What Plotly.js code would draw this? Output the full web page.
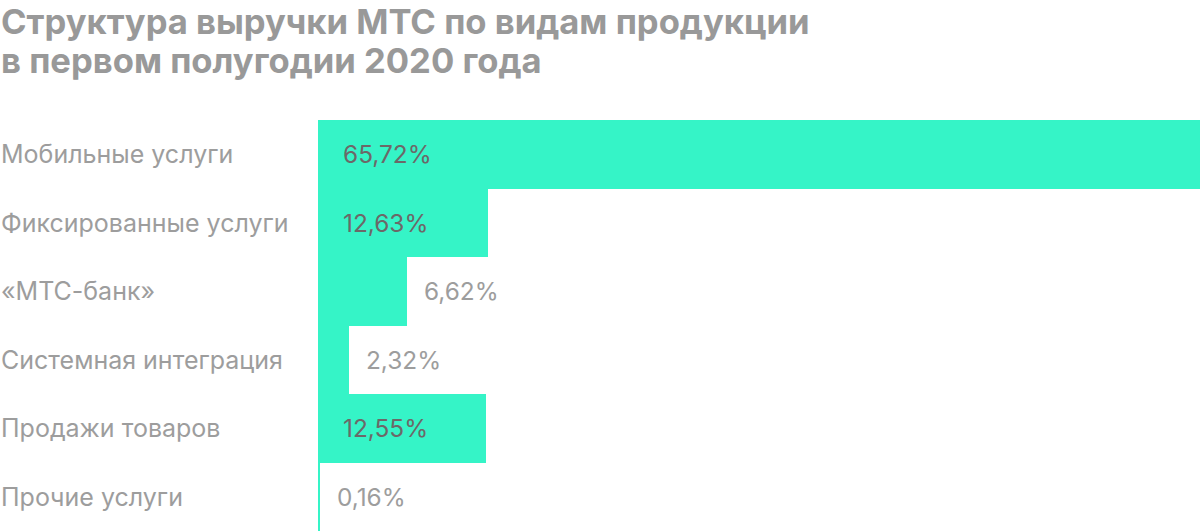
<!DOCTYPE html>
<html>
<head>
<meta charset="utf-8">
<script src="https://cdn.plot.ly/plotly-3.0.1.min.js"></script>
<style>
  html, body { margin: 0; padding: 0; background: #fff; }
  #chart { width: 1200px; height: 531px; }
</style>
</head>
<body>
<div id="chart"></div>
<script>
var titleLines = [
  "Структура выручки МТС по видам продукции",
  "в первом полугодии 2020 года"
];
var categories = [
  "Мобильные услуги",
  "Фиксированные услуги",
  "«МТС-банк»",
  "Системная интеграция",
  "Продажи товаров",
  "Прочие услуги"
];
var shares = [65.72, 12.63, 6.62, 2.32, 12.55, 0.16];
var shareLabels = ["65,72%", "12,63%", "6,62%", "2,32%", "12,55%", "0,16%"];

var barColor = "#35f4c7";
var font = "Inter, Roboto, 'Noto Sans', sans-serif";

var trace = {
  type: "bar",
  orientation: "h",
  x: shares,
  y: categories,
  marker: { color: barColor, line: { width: 0 } },
  hoverinfo: "none"
};

var annotations = [];

// two-line title, left aligned above the plot
titleLines.forEach(function (line, i) {
  annotations.push({
    xref: "paper", yref: "paper", x: 0, y: 1,
    xanchor: "left", yanchor: "middle",
    xshift: -319, yshift: 99 - i * 39,
    text: "<b>" + line + "</b>", showarrow: false,
    font: { family: font, size: 34.6, color: "#999999" }
  });
});

categories.forEach(function (cat, i) {
  // category name at the far left
  annotations.push({
    xref: "paper", yref: "y", x: 0, y: cat,
    xanchor: "left", yanchor: "middle", xshift: -319,
    text: cat, showarrow: false,
    font: { family: font, size: 25, color: "#9d9d9d" }
  });
  // value label: inside for wide bars, outside for narrow ones
  var inside = shares[i] > 10;
  annotations.push({
    xref: "x", yref: "y", x: inside ? 0 : shares[i], y: cat,
    xanchor: "left", yanchor: "middle", xshift: inside ? 23 : 15,
    text: shareLabels[i], showarrow: false,
    font: { family: font, size: 24.4, color: inside ? "#6c6868" : "#9d9d9d" }
  });
});

var layout = {
  width: 1200, height: 531,
  margin: { l: 318, r: 0, t: 120, b: 0 },
  paper_bgcolor: "#fff", plot_bgcolor: "#fff",
  bargap: 0,
  showlegend: false,
  xaxis: { range: [0, 65.72], visible: false, fixedrange: true },
  yaxis: { autorange: "reversed", visible: false, fixedrange: true },
  annotations: annotations
};

Plotly.newPlot("chart", [trace], layout, { displayModeBar: false, staticPlot: true });
</script>
</body>
</html>
